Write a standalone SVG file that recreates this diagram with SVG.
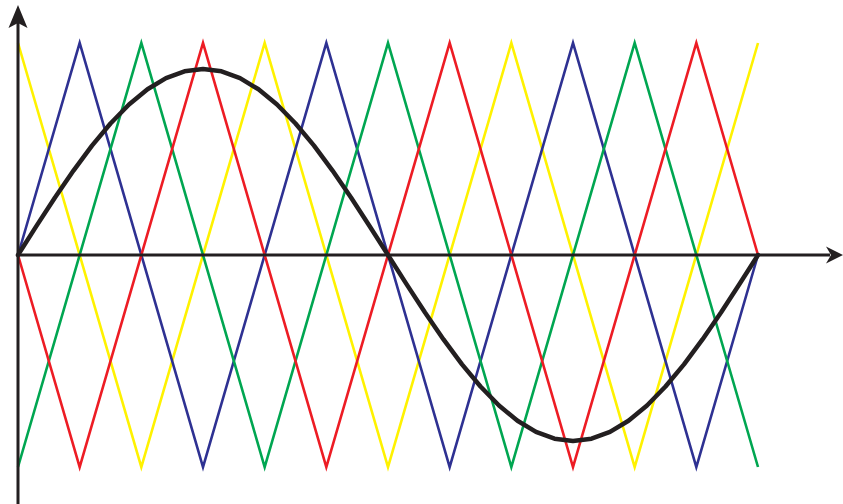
<svg xmlns="http://www.w3.org/2000/svg" width="843" height="504" viewBox="0 0 843 504">
<style>
.c{fill:none;stroke-width:2.6;stroke-linejoin:miter}
.y{stroke:#FFF200}.b{stroke:#2E3192}.g{stroke:#00A651}.r{stroke:#ED1C24}
.ax{stroke:#231F20;stroke-width:3;fill:none}
.head{fill:#231F20}
</style>
<rect width="843" height="504" fill="#fff"/>
<g id="carriers">
<polyline id="carrier-yellow" class="c y" points="18,43 141.33,467 264.67,43 388,467 511.33,43 634.67,467 758,43"/>
<polyline id="carrier-blue" class="c b" points="18,255 79.67,43 203,467 326.33,43 449.67,467 573,43 696.33,467 758,255"/>
<polyline id="carrier-green" class="c g" points="18,467 141.33,43 264.67,467 388,43 511.33,467 634.67,43 758,467"/>
<polyline id="carrier-red" class="c r" points="18,255 79.67,467 203,43 326.33,467 449.67,43 573,467 696.33,43 758,255"/>
</g>
<g id="axes">
<line class="ax" x1="18" y1="504" x2="18" y2="20"/>
<polygon class="head" points="18,5 27.5,28 18,23 8.5,28"/>
<line class="ax" x1="18" y1="255" x2="830" y2="255"/>
<polygon class="head" points="843,255 826,246.5 831,255 826,263.5"/>
</g>
<g id="sine">
<polyline fill="none" stroke="#231F20" stroke-width="4.5" stroke-linejoin="round" stroke-linecap="round" points="18,255 36.5,225.9 55,197.52 73.5,170.56 92,145.67 110.5,123.48 129,104.52 147.5,89.27 166,78.1 184.5,71.29 203,69 221.5,71.29 240,78.1 258.5,89.27 277,104.52 295.5,123.48 314,145.67 332.5,170.56 351,197.52 369.5,225.9 388,255 406.5,284.1 425,312.48 443.5,339.44 462,364.33 480.5,386.52 499,405.48 517.5,420.73 536,431.9 554.5,438.71 573,441 591.5,438.71 610,431.9 628.5,420.73 647,405.48 665.5,386.52 684,364.33 702.5,339.44 721,312.48 739.5,284.1 758,255"/>
</g>
</svg>
